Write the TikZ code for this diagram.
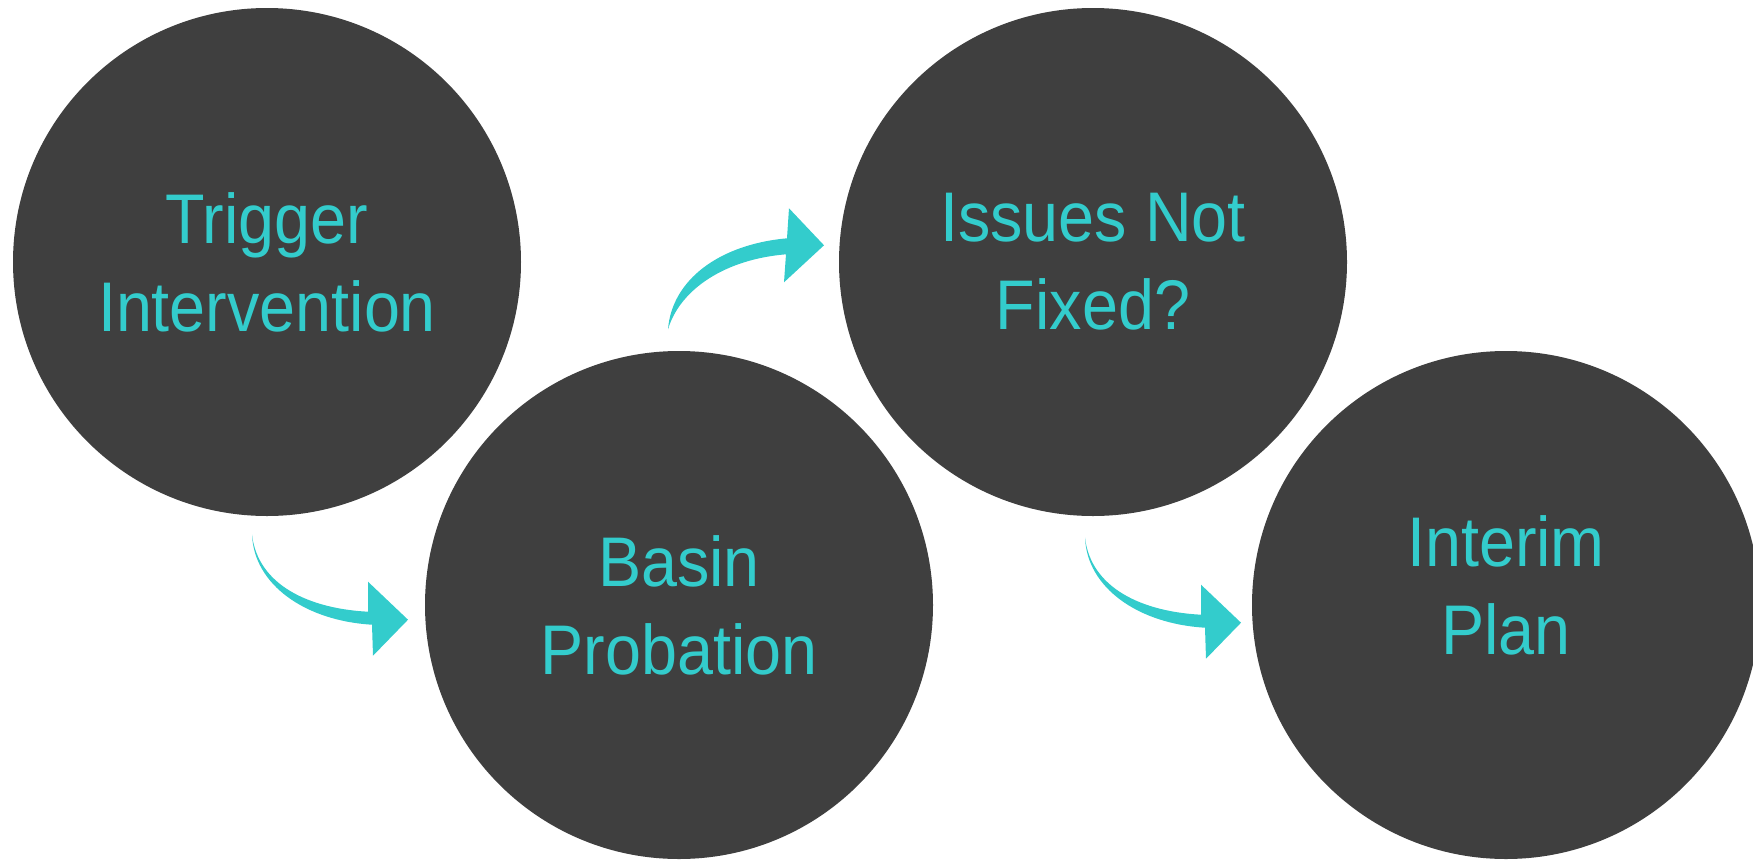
\documentclass[tikz,border=0pt]{standalone}
\usepackage{fontspec}
\setmainfont{Liberation Sans}[FakeStretch=0.92]
\usetikzlibrary{calc}

\definecolor{discgray}{RGB}{63,63,63}
\definecolor{stepteal}{RGB}{51,204,204}

\begin{document}
\begin{tikzpicture}[x=0.1mm, y=-0.1mm,
  disc/.style = {circle, fill=discgray, minimum size=50.8mm, inner sep=0, text=stepteal,
                 align=center, font=\fontsize{20pt}{25pt}\selectfont},
  downarrow/.pic = {\fill[stepteal] (0,0) .. controls (6,51) and (58,74) .. (116,77)
      -- (116,47) -- (156,85) -- (121,121) -- (120,90)
      .. controls (53,86) and (2,50) .. (0,0) -- cycle;},
  uparrow/.pic = {\fill[stepteal] (0,0) .. controls (4,-50) and (52,-85) .. (119,-91)
      -- (121,-121) -- (156,-84) -- (116,-47) -- (118,-75)
      .. controls (57,-70) and (12,-40) .. (0,0) -- cycle;}]

\clip (0,0) rectangle (1753,859);

\node[disc] (trigger) at (267,262) {Trigger\\Intervention};
\node[disc] (basin) at (679,605) {};
\node[disc] (issues) at (1093,262) {Issues Not\\Fixed?};
\node[disc] (interim) at (1506,605) {};

% text inside the lower discs
\node[text=stepteal, align=center, font=\fontsize{20pt}{25pt}\selectfont] (basintext) at (basin) {Basin\\Probation};
\node[text=stepteal, align=center, font=\fontsize{20pt}{25pt}\selectfont] (interimtext) at ($(interim)+(0,-20)$) {Interim\\Plan};

% bent arrows
\coordinate (a1) at ($(trigger.south)+(-15,18)$);
\coordinate (a2) at ($(basin.north)+(-11,-21)$);
\coordinate (a3) at ($(issues.south)+(-8,21)$);
\pic at (a1) {downarrow};
\pic at (a2) {uparrow};
\pic at (a3) {downarrow};

\end{tikzpicture}
\end{document}
